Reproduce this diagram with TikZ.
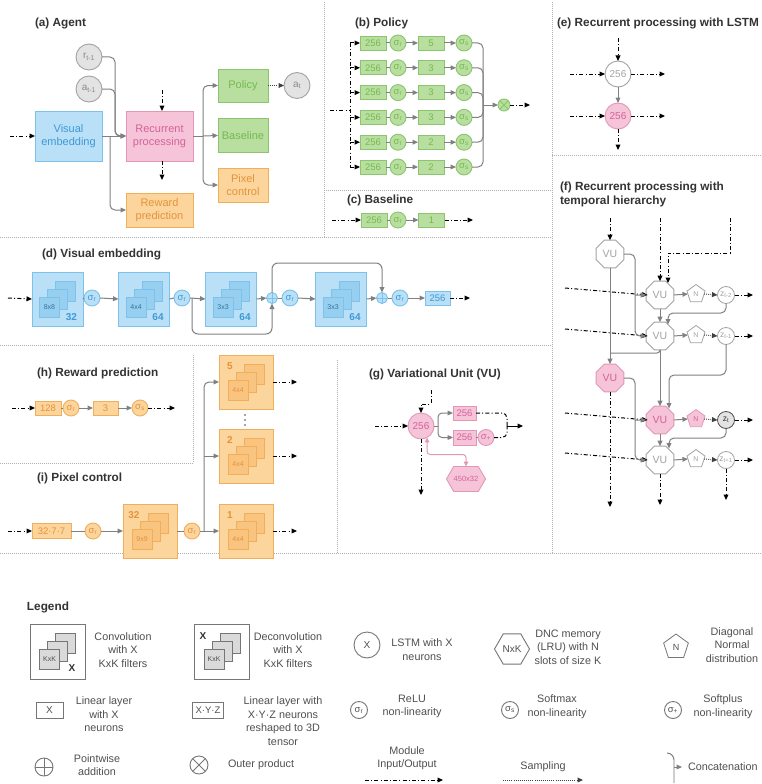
\documentclass[tikz,border=0pt]{standalone}
\usepackage{fontspec}
\setmainfont{Liberation Sans}
\usetikzlibrary{arrows.meta,shapes.geometric,shapes.symbols,calc}

% palette
\definecolor{cgray}{HTML}{808080}
\definecolor{titlec}{HTML}{333333}
\definecolor{legc}{HTML}{505050}
\definecolor{legd}{HTML}{767676}
\definecolor{legsq}{HTML}{DADADA}
\definecolor{divc}{HTML}{B0B0B0}
\definecolor{bfill}{HTML}{B9E0F7}
\definecolor{bdraw}{HTML}{7CC2EA}
\definecolor{btext}{HTML}{3D9AD6}
\definecolor{bsq}{HTML}{96CFF0}
\definecolor{bdark}{HTML}{35759F}
\definecolor{pfill}{HTML}{F6C4D8}
\definecolor{pdraw}{HTML}{E397B8}
\definecolor{ptext}{HTML}{D5629A}
\definecolor{gfill}{HTML}{B8DFA0}
\definecolor{gdraw}{HTML}{8BC56E}
\definecolor{gtext}{HTML}{76B94F}
\definecolor{ofill}{HTML}{FCD59D}
\definecolor{odraw}{HTML}{F1AF5C}
\definecolor{otext}{HTML}{E5923A}
\definecolor{osq}{HTML}{F9C47F}
\definecolor{cfill}{HTML}{E3E3E3}
\definecolor{cdraw}{HTML}{A3A3A3}
\definecolor{ctext}{HTML}{8A8A8A}

\newcommand\fsz[1]{\fontsize{#1}{#1}\selectfont}

% three stacked filter squares inside a (de)convolution block
% #1 block node, #2 fill, #3 border, #4 kernel label, #5 label colour
\newcommand\filterstack[5]{%
  \node[filt, fill=#2, draw=#3] (#1-back) at ($(#1)+(8,-8)$) {};
  \node[filt, fill=#2, draw=#3] (#1-mid) at (#1) {};
  \node[filt, fill=#2, draw=#3, text=#5] (#1-front) at ($(#1)+(-8,8)$) {#4};
}

\tikzset{
  every node/.style={inner sep=0pt, outer sep=0pt},
  tip/.style={-{Triangle[length=5.5pt,width=4.8pt]}},
  plain/.style={draw=cgray, line width=1pt},
  conn/.style={plain, tip},
  ioline/.style={draw=black, line width=1pt, dash pattern=on 4pt off 2.2pt on 1pt off 2.2pt},
  io/.style={ioline, tip},
  samp/.style={draw=black!75, line width=1pt, dash pattern=on 0.8pt off 1.3pt, tip},
  divider/.style={draw=divc, line width=0.8pt, dash pattern=on 0.7pt off 1.3pt},
  title/.style={anchor=west, text=titlec, font=\fontsize{11.8}{14}\selectfont\bfseries, align=left},
  mod/.style={rectangle, line width=0.9pt, align=center, font=\fontsize{11}{13}\selectfont},
  bmod/.style={mod, fill=bfill, draw=bdraw, text=btext},
  pmod/.style={mod, fill=pfill, draw=pdraw, text=ptext},
  gmod/.style={mod, fill=gfill, draw=gdraw, text=gtext},
  omod/.style={mod, fill=ofill, draw=odraw, text=otext},
  lin/.style={rectangle, line width=0.9pt, minimum width=26pt, minimum height=14pt, font=\fsz{9.5}},
  glin/.style={lin, fill=gfill, draw=gdraw, text=gtext},
  blin/.style={lin, fill=bfill, draw=bdraw, text=btext},
  olin/.style={lin, fill=ofill, draw=odraw, text=otext},
  plin/.style={lin, fill=pfill, draw=pdraw, text=ptext},
  sig/.style={circle, line width=0.9pt, minimum size=16pt, font=\fsz{9.5}},
  gsig/.style={sig, fill=gfill, draw=gdraw, text=gtext},
  bsig/.style={sig, fill=bfill, draw=bdraw, text=btext},
  osig/.style={sig, fill=ofill, draw=odraw, text=otext},
  psig/.style={sig, fill=pfill, draw=pdraw, text=ptext},
  lsig/.style={sig, fill=white, draw=legd, text=legc},
  opc/.style={circle, line width=0.9pt, minimum size=11pt},
  incirc/.style={circle, line width=0.9pt, minimum size=26pt, fill=cfill, draw=cdraw, text=ctext, font=\fsz{10}},
  lstm/.style={circle, line width=0.9pt, minimum size=26pt, font=\fsz{10}},
  blk/.style={rectangle, line width=0.9pt},
  filt/.style={rectangle, line width=0.8pt, minimum size=20pt, font=\fsz{7}},
  vu/.style={regular polygon, regular polygon sides=8, minimum size=30pt, line width=0.9pt, font=\fsz{10.5}},
  vuw/.style={vu, fill=white, draw=cdraw, text=cdraw},
  vup/.style={vu, fill=pfill, draw=pdraw, text=ptext},
  nrm/.style={regular polygon, regular polygon sides=5, minimum size=19pt, line width=0.8pt, font=\fsz{7}},
  zc/.style={circle, minimum size=17pt, line width=0.8pt, font=\fsz{8.5}},
  legtxt/.style={align=center, text=legc, font=\fontsize{10.8}{13.5}\selectfont},
}

\begin{document}
\begin{tikzpicture}[x=1pt,y=-1pt]
\useasboundingbox (0,0) rectangle (761,784);
\fill[white] (0,0) rectangle (761,784);

% ---------------- panel dividers ----------------
\draw[divider] (324,2) -- (324,237);
\draw[divider] (552,2) -- (552,553);
\draw[divider] (324,190) -- (552,190);
\draw[divider] (552,155) -- (761,155);
\draw[divider] (0,237) -- (552,237);
\draw[divider] (0,345) -- (552,345);
\draw[divider] (193,355) -- (193,463);
\draw[divider] (0,463) -- (193,463);
\draw[divider] (337,360) -- (337,553);
\draw[divider] (0,553) -- (761,553);

% ---------------- (a) Agent ----------------
\node[title] (ta) at (35,23) {(a) Agent};
\node[bmod, minimum width=67pt, minimum height=50pt] (ve) at (68.5,136) {Visual\\embedding};
\node[pmod, minimum width=67pt, minimum height=50pt] (rp) at (159.5,136) {Recurrent\\processing};
\node[omod, minimum width=67pt, minimum height=34pt] (rew) at (159.5,210) {Reward\\prediction};
\node[gmod, minimum width=50pt, minimum height=33pt] (pol) at (243,85.5) {Policy};
\node[gmod, minimum width=50pt, minimum height=34pt] (base) at (243,135.5) {Baseline};
\node[omod, minimum width=50pt, minimum height=34pt] (pix) at (243,185) {Pixel\\control};
\node[incirc] (rprev) at (89,57) {r\textsubscript{t-1}};
\node[incirc] (aprev) at (89,89) {a\textsubscript{t-1}};
\node[incirc] (acur) at (297,85.5) {a\textsubscript{t}};
\coordinate (ain) at (10,136);
\coordinate (vsp) at (110,136);
\coordinate (rsp) at (203,136);
\coordinate (rtop) at (162,90);
\coordinate (rbot) at (162,180);
\draw[io] (ain) -- (ve.west);
\draw[conn] (ve.east) -- (rp.west);
\draw[conn, rounded corners=5pt] (rprev.east) -| (115,136) -- (rp.west);
\draw[conn, rounded corners=5pt] (aprev.east) -| (115,136) -- (rp.west);
\draw[conn, rounded corners=5pt] (vsp) |- (rew.west);
\draw[io] (rtop) -- (rtop |- rp.north);
\draw[io] (rbot |- rp.south) -- (rbot);
\draw[plain] (rp.east) -- (rsp);
\draw[conn, rounded corners=5pt] (rsp) |- (pol.west);
\draw[conn] (rsp) -- (base.west);
\draw[conn, rounded corners=5pt] (rsp) |- (pix.west);
\draw[samp] (pol.east) -- (acur.west);

% ---------------- (b) Policy ----------------
\node[title] (tb) at (355,23) {(b) Policy};
\coordinate (bin) at (330,110);
\coordinate (bjoin) at (483,105);
\draw[ioline] (bin) -- (350,110);
\draw[ioline] (350,43) -- (350,167);
\foreach \i/\y/\n in {1/43/5, 2/67.8/3, 3/92.6/3, 4/117.4/3, 5/142.2/2, 6/167/2} {
  \node[glin] (bp\i) at (373,\y) {256};
  \node[gsig] (br\i) at (398,\y) {σ\textsubscript{r}};
  \node[glin] (bl\i) at (431,\y) {\n};
  \node[gsig] (bs\i) at (464,\y) {σ\textsubscript{s}};
  \coordinate (bv\i) at (350,\y);
  \draw[io] (bv\i) -- (bp\i.west);
  \draw[plain] (bp\i.east) -- (br\i.west);
  \draw[conn] (br\i.east) -- (bl\i.west);
  \draw[conn] (bl\i.east) -- (bs\i.west);
  \draw[plain, rounded corners=5pt] (bs\i.east) -| (bjoin);
}
\node[opc, minimum size=12pt, fill=gfill, draw=gdraw] (bx) at (504,105) {};
\draw[gdraw, line width=0.8pt] (bx.north west) -- (bx.south east) (bx.north east) -- (bx.south west);
\draw[conn] (bjoin) -- (bx.west);
\coordinate (bout) at (530,105);
\draw[io] (bx.east) -- (bout);

% ---------------- (c) Baseline ----------------
\node[title] (tc) at (347,200) {(c) Baseline};
\node[glin] (c256) at (374,220) {256};
\node[gsig] (csr) at (398,220) {σ\textsubscript{r}};
\node[glin] (c1) at (431.5,220) {1};
\coordinate (cin) at (332,220);
\coordinate (cout) at (473,220);
\draw[io] (cin) -- (c256.west);
\draw[plain] (c256.east) -- (csr.west);
\draw[conn] (csr.east) -- (c1.west);
\draw[io] (c1.east) -- (cout);

% ---------------- (e) LSTM ----------------
\node[title] (te) at (557,23) {(e) Recurrent processing with LSTM};
\node[lstm, fill=white, draw=cdraw, text=cdraw] (e1) at (618,74) {256};
\node[lstm, fill=pfill, draw=pdraw, text=ptext] (e2) at (618,116) {256};
\coordinate (etop) at (618,38);
\coordinate (el1) at (570,74);
\coordinate (er1) at (665,74);
\coordinate (el2) at (570,116);
\coordinate (er2) at (665,116);
\coordinate (ebot) at (618,150);
\draw[io] (etop) -- (e1.north);
\draw[io] (el1) -- (e1.west);
\draw[io] (e1.east) -- (er1);
\draw[io] (el2) -- (e2.west);
\draw[io] (e2.east) -- (er2);
\draw[conn] (e1.south) -- (e2.north);
\draw[io] (e2.south) -- (ebot);

% ---------------- (f) temporal hierarchy ----------------
\node[title] (tf) at (560,194) {(f) Recurrent processing with\\temporal hierarchy};
\node[vuw] (fv0) at (610,254) {VU};
\node[vuw] (fv1) at (660,295) {VU};
\node[vuw] (fv2) at (660,336) {VU};
\node[vup] (fvp) at (610,378) {VU};
\node[vup] (fv3) at (660,420) {VU};
\node[vuw] (fv4) at (660,460) {VU};
\node[nrm, fill=white, draw=cdraw, text=cdraw] (fn1) at (696,294) {N};
\node[nrm, fill=white, draw=cdraw, text=cdraw] (fn2) at (696,335) {N};
\node[nrm, fill=pfill, draw=pdraw, text=ptext] (fn3) at (696,419) {N};
\node[nrm, fill=white, draw=cdraw, text=cdraw] (fn4) at (696,459) {N};
\node[zc, fill=white, draw=cdraw, text=cdraw] (fz1) at (726,295) {z\textsubscript{t-2}};
\node[zc, fill=white, draw=cdraw, text=cdraw] (fz2) at (726,336) {z\textsubscript{t-1}};
\node[zc, fill=cfill, draw=black!70, text=black!80] (fz3) at (726,420) {z\textsubscript{t}};
\node[zc, fill=white, draw=cdraw, text=cdraw] (fz4) at (726,460) {z\textsubscript{t+1}};
% module inputs
\coordinate (fi0) at (610,218);
\coordinate (fi1) at (660,218);
\coordinate (fi2) at (730,218);
\draw[io] (fi0) -- (fv0.north);
\draw[io] (fi1) -- (fv1.north);
\draw[io] (fi2) |- (668,253) -- (668,283);
\foreach \k/\y in {1/288, 2/329, 3/413, 4/453} {
  \coordinate (fh\k) at (565,\y);
  \draw[io] (fh\k) -- ($(fv\k.west)+(1.5,0)$ |- fh\k);
}
% slow units feed the fast units
\draw[conn, rounded corners=5pt] (fv0.east) -| (635,336) -- (fv2.west);
\coordinate (fb1) at (635,295);
\draw[conn] (fb1) -- (fv1.west);
\draw[conn, rounded corners=5pt] (fvp.east) -| (635,460) -- (fv4.west);
\coordinate (fb3) at (635,420);
\draw[conn] (fb3) -- (fv3.west);
\draw[conn] (fv0.south) -- (fvp.north);
\draw[conn] (fv1.south) -- (fv2.north);
\draw[plain, rounded corners=3pt] (fv2.south) |- (610,353);
\draw[conn] (fv2.south) -- (fv3.north);
\draw[conn] (fv3.south) -- (fv4.north);
% sampling chain
\foreach \k in {1,2,3,4} {
  \draw[conn] (fv\k.east) -- (fn\k.west);
  \draw[samp] (fn\k.east) -- (fz\k.west);
  \coordinate (fo\k) at (753,0 |- fz\k);
  \draw[io] (fz\k.east) -- (fo\k);
}
\draw[conn, rounded corners=5pt] (fz1.south) |- (668,313) -- (668,324.5);
\draw[conn, rounded corners=5pt] (fz2.south) |- (669,375) -- (669,408.5);
\draw[conn, rounded corners=5pt] (fz3.south) |- (669,438) -- (669,448.5);
% outputs
\coordinate (fd1) at (610,507);
\coordinate (fd2) at (660,505);
\coordinate (fd3) at (726,500);
\draw[io] (fvp.south) -- (fd1);
\draw[io] (fv4.south) -- (fd2);
\draw[io] (fz4.south) -- (fd3);

% ---------------- (d) Visual embedding ----------------
\node[title] (td) at (42,254) {(d) Visual embedding};
\foreach \nm/\cx/\k/\c in {ce1/57.5/8x8/32, ce2/144/4x4/64, ce3/231/3x3/64, ce4/341/3x3/64} {
  \node[blk, fill=bfill, draw=bdraw, minimum width=51pt, minimum height=54pt] (\nm) at (\cx,299) {};
  \filterstack{\nm}{bsq}{bdraw}{\k}{bdark}
  \node[font=\fsz{10}\bfseries, text=btext] (\nm-n) at ($(\nm)+(14,18)$) {\c};
}
\node[bsig] (ds1) at (92,298) {σ\textsubscript{r}};
\node[bsig] (ds2) at (182,298) {σ\textsubscript{r}};
\node[bsig] (ds3) at (290,298) {σ\textsubscript{r}};
\node[bsig] (ds4) at (400,298) {σ\textsubscript{r}};
\node[opc, fill=bfill, draw=bdraw] (dp1) at (272,298) {};
\node[opc, fill=bfill, draw=bdraw] (dp2) at (382,298) {};
\foreach \p in {dp1,dp2} {
  \draw[bdraw, line width=0.8pt] (\p.north) -- (\p.south) (\p.west) -- (\p.east);
}
\node[blin, minimum width=25pt] (d256) at (437.5,298) {256};
\coordinate (din) at (8,298);
\coordinate (dout) at (470,298);
\coordinate (dsk) at (192,298);
\draw[io] (din) -- (ce1.west);
\draw[plain] (ce1.east) -- (ds1.west);
\draw[conn] (ds1.east) -- (ce2.west);
\draw[plain] (ce2.east) -- (ds2.west);
\draw[conn] (ds2.east) -- (ce3.west);
\draw[conn] (ce3.east) -- (dp1.west);
\draw[plain] (dp1.east) -- (ds3.west);
\draw[conn] (ds3.east) -- (ce4.west);
\draw[conn] (ce4.east) -- (dp2.west);
\draw[plain] (dp2.east) -- (ds4.west);
\draw[conn] (ds4.east) -- (d256.west);
\draw[io] (d256.east) -- (dout);
\draw[conn, rounded corners=6pt] (dsk) -- (192,334) -- (272,334) -- (dp1.south);
\draw[conn, rounded corners=6pt] (dp1.north) -- (272,263) -- (382,263) -- (dp2.north);

% ---------------- (h) Reward prediction ----------------
\node[title] (th) at (37,373) {(h) Reward prediction};
\node[olin] (h128) at (48,408) {128};
\node[osig] (hs1) at (71,408) {σ\textsubscript{r}};
\node[olin, minimum width=25pt] (h3) at (105.5,408) {3};
\node[osig] (hs2) at (140,408) {σ\textsubscript{s}};
\coordinate (hin) at (12,408);
\coordinate (hout) at (175,408);
\draw[io] (hin) -- (h128.west);
\draw[plain] (h128.east) -- (hs1.west);
\draw[conn] (hs1.east) -- (h3.west);
\draw[conn] (h3.east) -- (hs2.west);
\draw[io] (hs2.east) -- (hout);

% ---------------- (i) Pixel control ----------------
\node[title] (ti) at (37,478) {(i) Pixel control};
\node[olin, minimum width=39pt, minimum height=15pt] (i377) at (51.5,531) {32·7·7};
\node[osig] (is1) at (93,531) {σ\textsubscript{r}};
\node[blk, fill=ofill, draw=odraw, minimum width=54pt, minimum height=54pt] (idc) at (150,531) {};
\filterstack{idc}{osq}{odraw}{9x9}{otext}
\node[font=\fsz{10}\bfseries, text=otext] (idc-n) at ($(idc)+(-16,-16)$) {32};
\node[osig] (is2) at (192,531) {σ\textsubscript{r}};
\foreach \nm/\cy/\c in {ib5/382/5, ib2/456/2, ib1/531/1} {
  \node[blk, fill=ofill, draw=odraw, minimum width=54pt, minimum height=54pt] (\nm) at (246,\cy) {};
  \filterstack{\nm}{osq}{odraw}{4x4}{otext}
  \node[font=\fsz{10}\bfseries, text=otext] (\nm-n) at ($(\nm)+(-16,-16)$) {\c};
  \coordinate (\nm-o) at (297,\cy);
  \draw[io] (\nm.east) -- (\nm-o);
}
\coordinate (iin) at (8,531);
\coordinate (isp) at (204,531);
\coordinate (isp2) at (204,456);
\draw[io] (iin) -- (i377.west);
\draw[plain] (i377.east) -- (is1.west);
\draw[conn] (is1.east) -- (idc.west);
\draw[plain] (idc.east) -- (is2.west);
\draw[plain] (is2.east) -- (isp);
\draw[conn] (isp) -- (ib1.west);
\draw[conn] (isp2) -- (ib2.west);
\draw[conn, rounded corners=5pt] (isp) |- (ib5.west);
\node (idots) at (245,420) {};
\foreach \d in {-5,0,5} \fill[black!70] ($(idots)+(0,\d)$) circle (0.8pt);

% ---------------- (g) Variational unit ----------------
\node[title] (tg) at (369,374) {(g) Variational Unit (VU)};
\node[lstm, fill=pfill, draw=pdraw, text=ptext] (gc) at (421,426) {256};
\node[plin, minimum width=23pt] (gb1) at (464.5,413) {256};
\node[plin, minimum width=23pt, minimum height=15pt] (gb2) at (464.5,437.5) {256};
\node[psig] (gsp) at (486,437.5) {σ\textsubscript{+}};
\node[signal, signal to=east and west, signal pointer angle=120, minimum width=36pt, minimum height=25pt,
      fill=pfill, draw=pdraw, line width=0.9pt, text=ptext, font=\fsz{7.5}] (gm) at (466,479) {450x32};
\coordinate (gin) at (375,426);
\coordinate (gtop) at (431,390);
\coordinate (gs) at (438,426);
\coordinate (gbr) at (507,426);
\coordinate (gout) at (523,426);
\coordinate (gbot) at (421,495);
\draw[io] (gin) -- (gc.west);
\draw[io] (gtop) -- (431,404) -| (gc.north);
\draw[plain] (gc.east) -- (gs);
\draw[conn, rounded corners=4pt] (gs) |- (gb1.west);
\draw[conn, rounded corners=4pt] (gs) |- (gb2.west);
\draw[plain] (gb2.east) -- (gsp.west);
\draw[ioline, rounded corners=5pt] (gb1.east) -| (gbr);
\draw[ioline, rounded corners=5pt] (gsp.east) -| (gbr);
\draw[draw=black, line width=1pt, tip] (gbr) -- (gout);
\draw[io] (gc.south) -- (gbot);
\draw[draw=pdraw, line width=1pt, {Triangle[length=5pt,width=4.5pt]}-{Triangle[length=5pt,width=4.5pt]}, rounded corners=3pt]
  (gc.-62) |- ($(gm.north)+(0,-12)$) -- (gm.north);

% ---------------- Legend ----------------
\node[title] (tl) at (27,607) {Legend};
% convolution
\node[blk, fill=white, draw=legd, minimum size=55pt] (lc) at (57.5,651.5) {};
\filterstack{lc}{legsq}{legd}{KxK}{legc}
\node[font=\fsz{10}\bfseries, text=titlec] (lc-n) at ($(lc)+(14.5,16.5)$) {X};
\node[legtxt] (lct) at (123,650) {Convolution\\with X\\KxK filters};
% deconvolution
\node[blk, fill=white, draw=legd, minimum size=55pt] (ld) at (222,651.5) {};
\filterstack{ld}{legsq}{legd}{KxK}{legc}
\node[font=\fsz{10}\bfseries, text=titlec] (ld-n) at ($(ld)+(-19,-15)$) {X};
\node[legtxt] (ldt) at (288,650) {Deconvolution\\with X\\KxK filters};
% lstm
\node[lstm, fill=white, draw=legd, text=legc] (ll) at (367,645) {X};
\node[legtxt] (llt) at (422,649.5) {LSTM with X\\neurons};
% memory
\node[regular polygon, regular polygon sides=6, minimum size=35pt, line width=0.9pt, draw=legd, text=legc, font=\fsz{10}] (lm) at (512,649) {NxK};
\node[legtxt] (lmt) at (568,647) {DNC memory\\(LRU) with N\\slots of size K};
% normal distribution
\node[nrm, minimum size=26pt, draw=legd, text=legc, font=\fsz{9}] (ln) at (676,647) {N};
\node[legtxt] (lnt) at (732,645) {Diagonal\\Normal\\distribution};
% linear layers
\node[rectangle, line width=0.9pt, draw=legd, text=legc, minimum width=27pt, minimum height=16pt, font=\fsz{10}] (lx) at (49.5,710) {X};
\node[legtxt] (lxt) at (104,714.5) {Linear layer\\with X\\neurons};
\node[rectangle, line width=0.9pt, draw=legd, text=legc, minimum width=31pt, minimum height=16pt, font=\fsz{9.5}] (lxyz) at (208,710) {X·Y·Z};
\node[legtxt] (lxyzt) at (283,721) {Linear layer with\\X·Y·Z neurons\\reshaped to 3D\\tensor};
% non-linearities
\node[lsig, minimum size=17pt] (lr) at (359,710) {σ\textsubscript{r}};
\node[legtxt] (lrt) at (412,706.5) {ReLU\\non-linearity};
\node[lsig, minimum size=17pt] (lsm) at (510,710) {σ\textsubscript{s}};
\node[legtxt] (lsmt) at (557,706.5) {Softmax\\non-linearity};
\node[lsig, minimum size=17pt] (lsp) at (673,710) {σ\textsubscript{+}};
\node[legtxt] (lspt) at (723,706.5) {Softplus\\non-linearity};
% operators
\node[opc, minimum size=18pt, draw=legd] (la) at (44,767) {};
\draw[legd, line width=0.9pt] (la.north) -- (la.south) (la.west) -- (la.east);
\node[legtxt] (lat) at (97,765) {Pointwise\\addition};
\node[opc, minimum size=18pt, draw=legd] (lo) at (199,765) {};
\draw[legd, line width=0.9pt] (lo.north west) -- (lo.south east) (lo.north east) -- (lo.south west);
\node[legtxt, anchor=west] (lot) at (228,765) {Outer product};
% connector kinds
\node[legtxt] (lio) at (407,758) {Module\\Input/Output};
\coordinate (lio1) at (365,780);
\coordinate (lio2) at (443,780);
\draw[io] (lio1) -- (lio2);
\node[legtxt] (lsa) at (543,767) {Sampling};
\coordinate (lsa1) at (503,780);
\coordinate (lsa2) at (583,780);
\draw[samp] (lsa1) -- (lsa2);
\coordinate (lcb) at (674,767);
\coordinate (lcb2) at (682,767);
\draw[legd, line width=0.9pt] (667,753) to[out=0,in=90] (674,760) -- (674,783);
\draw[plain, tip] (lcb) -- (lcb2);
\node[legtxt, anchor=west] (lcat) at (688,767) {Concatenation};
\end{tikzpicture}
\end{document}
